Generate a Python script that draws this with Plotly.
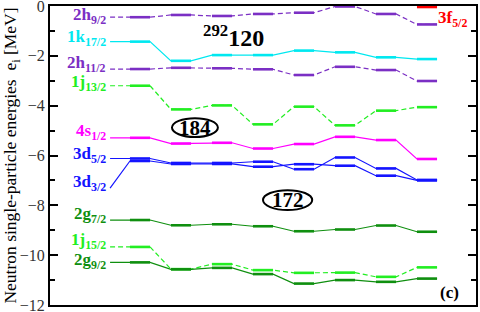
import plotly.graph_objects as go

# calculation columns (x categories)
columns = [0, 1, 2, 3, 4, 5, 6, 7]

# neutron single-particle energies [MeV] per column
e_2h92  = [-0.45, -0.36, -0.40, -0.32, -0.27, -0.02, -0.32, -0.74]
e_1k172 = [-1.43, -2.20, -1.97, -1.97, -1.79, -1.86, -2.06, -2.13]
e_2h112 = [-2.53, -2.48, -2.50, -2.54, -2.77, -2.44, -2.57, -3.01]
e_1j132 = [-3.20, -4.15, -3.99, -4.75, -4.04, -4.79, -4.20, -4.06]
e_4s12  = [-5.29, -5.52, -5.49, -5.72, -5.54, -5.25, -5.38, -6.14]
e_3d52  = [-6.12, -6.30, -6.30, -6.25, -6.55, -6.08, -6.52, -6.98]
e_3d32  = [-6.22, -6.34, -6.34, -6.45, -6.35, -6.41, -6.81, -7.00]
e_2g72  = [-8.59, -8.80, -8.76, -8.84, -9.04, -8.97, -8.81, -9.06]
e_1j152 = [-9.67, -10.56, -10.36, -10.60, -10.71, -10.70, -10.87, -10.49]
e_2g92  = [-10.29, -10.57, -10.51, -10.76, -11.14, -11.00, -11.07, -10.94]
e_3f52  = [None, None, None, None, None, None, None, -0.04]

level_names = ["2h<sub>9/2</sub>", "1k<sub>17/2</sub>", "2h<sub>11/2</sub>", "1j<sub>13/2</sub>",
               "4s<sub>1/2</sub>", "3d<sub>5/2</sub>", "3d<sub>3/2</sub>", "2g<sub>7/2</sub>",
               "1j<sub>15/2</sub>", "2g<sub>9/2</sub>", "3f<sub>5/2</sub>"]
level_values = [e_2h92, e_1k172, e_2h112, e_1j132, e_4s12, e_3d52, e_3d32, e_2g72,
                e_1j152, e_2g92, e_3f52]
level_colors = ["#7b2fc4", "#00e8f0", "#7b2fc4", "#22ee22", "#ff00ff", "#1414ff", "#1414ff",
                "#0f8f0f", "#22ee22", "#0f8f0f", "#ff0000"]
level_dashed = [True, False, True, True, False, False, False, False, True, False, False]
# energy at which the connector leaves the left label
label_start_e = [-0.45, -1.43, -2.53, -3.20, -5.29, -6.12, -7.31, -8.59, -9.67, -10.29, None]
# label vertical centres
label_y = [-0.40, -1.29, -2.33, -3.09, -5.06, -5.98, -7.10, -8.39, -9.44, -10.24, -0.52]

half = 0.245
label_x = -0.73
SERIF = "Liberation Serif, Times New Roman, serif"

fig = go.Figure()

for name, vals, col, dashed, ls in zip(level_names, level_values, level_colors,
                                        level_dashed, label_start_e):
    xs, ys = [], []
    if ls is not None:
        xs.append(label_x)
        ys.append(ls)
    for c, v in zip(columns, vals):
        if v is None:
            continue
        xs += [c - half, c + half]
        ys += [v, v]
    fig.add_trace(go.Scatter(x=xs, y=ys, mode="lines",
                             line=dict(color=col, width=1.2,
                                       dash="5px,3px" if dashed else "solid"),
                             hoverinfo="skip", showlegend=False))
    sx, sy = [], []
    for c, v in zip(columns, vals):
        if v is None:
            continue
        sx += [c - half, c + half, None]
        sy += [v, v, None]
    fig.add_trace(go.Scatter(x=sx, y=sy, mode="lines",
                             line=dict(color=col, width=2.6),
                             hoverinfo="skip", showlegend=False))

annotations = []
for i, (name, col, ly) in enumerate(zip(level_names, level_colors, label_y)):
    last = i == len(level_names) - 1
    annotations.append(dict(x=7.22 if last else -0.78, y=ly, xref="x", yref="y",
                            text="<b>" + name + "</b>",
                            showarrow=False, xanchor="left" if last else "right",
                            yanchor="middle",
                            font=dict(family=SERIF, size=17, color=col)))

annotations.append(dict(x=2.28, y=-1.22, xref="x", yref="y",
                        text="<b><sup>292</sup>120</b>", showarrow=False,
                        font=dict(family=SERIF, size=24, color="black")))
annotations.append(dict(x=1.34, y=-4.88, xref="x", yref="y", text="<b>184</b>",
                        showarrow=False,
                        font=dict(family=SERIF, size=21, color="black")))
annotations.append(dict(x=3.60, y=-7.79, xref="x", yref="y", text="<b>172</b>",
                        showarrow=False,
                        font=dict(family=SERIF, size=21, color="black")))
annotations.append(dict(x=7.55, y=-11.50, xref="x", yref="y", text="<b>(c)</b>",
                        showarrow=False,
                        font=dict(family=SERIF, size=17, color="black")))

shapes = [
    dict(type="circle", xref="x", yref="y", x0=0.78, x1=1.90, y0=-5.26, y1=-4.50,
         line=dict(color="black", width=2)),
    dict(type="circle", xref="x", yref="y", x0=3.0, x1=4.2, y0=-8.19, y1=-7.39,
         line=dict(color="black", width=2)),
]

fig.update_layout(
    width=480, height=312,
    margin=dict(l=50, r=4, t=6, b=7, autoexpand=False),
    plot_bgcolor="white", paper_bgcolor="white",
    annotations=annotations, shapes=shapes,
    font=dict(family=SERIF, color="black"),
)
fig.update_xaxes(range=[-2.195, 8.195], showgrid=False, zeroline=False,
                 showticklabels=False, ticks="",
                 showline=True, linecolor="black", linewidth=2, mirror=True)
fig.update_yaxes(range=[-12, 0], tickvals=[-12, -10, -8, -6, -4, -2, 0],
                 ticks="inside", ticklen=8, tickwidth=2, tickcolor="black",
                 minor=dict(tickvals=[-11, -9, -7, -5, -3, -1], ticks="inside",
                            ticklen=5, tickwidth=2, tickcolor="black"),
                 showgrid=False, zeroline=False, automargin=False,
                 ticklabeloverflow="allow",
                 showline=True, linecolor="black", linewidth=2, mirror="allticks",
                 tickfont=dict(family=SERIF, size=16, color="#333333"),
                 title=dict(text="Neutron single-particle energies  e<sub>i</sub> [MeV]",
                            font=dict(family=SERIF, size=17.5, color="black"),
                            standoff=5))

fig.write_html("out.html",
               config={"displayModeBar": False},
               post_script="document.body.style.margin='0';document.body.style.padding='0';")
